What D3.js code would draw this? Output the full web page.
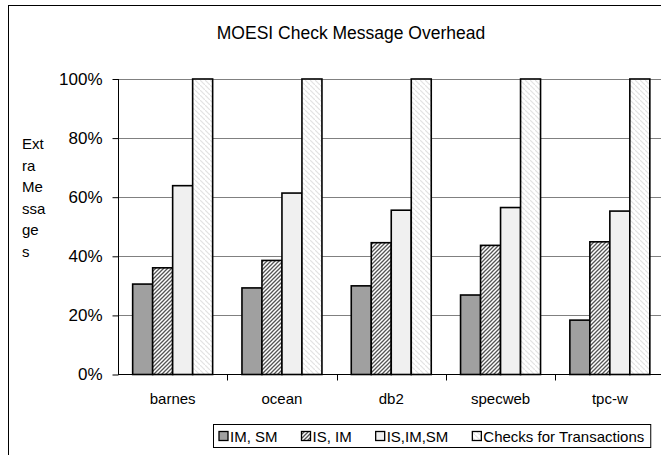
<!DOCTYPE html>
<html><head><meta charset="utf-8">
<script src="https://cdn.jsdelivr.net/npm/d3@7"></script>
<style>body{margin:0;background:#fff}svg{display:block}text{font-family:"Liberation Sans",Arial,sans-serif;fill:#000}</style>
</head><body><svg id="c" width="661" height="455"></svg>
<script>
const categories = ["barnes", "ocean", "db2", "specweb", "tpc-w"];
const seriesNames = ["IM, SM", "IS, IM", "IS,IM,SM", "Checks for Transactions"];
const imSm = [30.6, 29.3, 30.0, 26.9, 18.4];
const isIm = [36.1, 38.6, 44.6, 43.7, 44.9];
const isImSm = [63.9, 61.4, 55.6, 56.5, 55.3];
const checks = [100, 100, 100, 100, 100];
const yTicks = [0, 20, 40, 60, 80, 100];
const title = "MOESI Check Message Overhead";
const yLabelLines = ["Ext", "ra", "Me", "ssa", "ge", "s"];

const series = [imSm, isIm, isImSm, checks];
const fills = ["#a0a0a0", "url(#hatch)", "#f0f0f0", "url(#light)"];
const FS = 15;

const svg = d3.select("#c");
const defs = svg.append("defs");
const p1 = defs.append("pattern").attr("id","hatch").attr("patternUnits","userSpaceOnUse").attr("width",4).attr("height",4);
p1.append("rect").attr("width",4).attr("height",4).attr("fill","#fff");
p1.append("path").attr("d","M-1,1 l2,-2 M0,4 l4,-4 M3,5 l2,-2").attr("stroke","#555").attr("stroke-width",1.3);
const p2 = defs.append("pattern").attr("id","light").attr("patternUnits","userSpaceOnUse").attr("width",5).attr("height",5);
p2.append("rect").attr("width",5).attr("height",5).attr("fill","#fff");
p2.append("path").attr("d","M-1,-1 l2,2 M0,0 l5,5 M4,4 l2,2").attr("stroke","#e2e2e2").attr("stroke-width",1.2);

// outer chart border
svg.append("rect").attr("x",8.5).attr("y",5.5).attr("width",700).attr("height",470).attr("fill","none").attr("stroke","#000").attr("stroke-width",1);

svg.append("text").attr("x",351).attr("y",39).attr("text-anchor","middle").attr("font-size",17.5).text(title);

const x0 = d3.scaleBand().domain(categories).range([118, 664.5]).paddingInner(0).paddingOuter(0);
const x1 = d3.scaleBand().domain(d3.range(4)).range([0, x0.bandwidth()]).paddingOuter(0.733).paddingInner(0);
const y = d3.scaleLinear().domain([0,100]).range([374.5, 79]);

// gridlines
svg.append("g").selectAll("line").data(yTicks.filter(d=>d>0)).join("line")
  .attr("x1",118).attr("x2",661).attr("y1",d=>Math.round(y(d))+0.5).attr("y2",d=>Math.round(y(d))+0.5)
  .attr("stroke","#808080").attr("stroke-width",1);

// bars
const g = svg.append("g");
categories.forEach((c,i)=>{
  series.forEach((s,j)=>{
    g.append("rect")
      .attr("x", x0(c)+x1(j))
      .attr("y", y(s[i]))
      .attr("width", x1.bandwidth())
      .attr("height", y(0)-y(s[i]))
      .attr("fill", fills[j]).attr("stroke","#000").attr("stroke-width",1.6);
  });
});

// y axis
const yAxis = d3.axisLeft(y).tickValues(yTicks).tickFormat(d=>d+"%").tickSize(5).tickPadding(11);
const ya = svg.append("g").attr("transform","translate(118.5,0)").call(yAxis);
ya.select(".domain").attr("stroke","#000").attr("d","M0,79V375");
ya.selectAll(".tick line").attr("stroke","#000").attr("x2",-6);
ya.selectAll(".tick text").attr("font-size",17).attr("font-family","Liberation Sans, Arial, sans-serif").attr("fill","#000");

// x axis
const xAxis = d3.axisBottom(x0).tickSize(0).tickPadding(19);
const xa = svg.append("g").attr("transform","translate(0,374.5)").call(xAxis);
xa.select(".domain").attr("stroke","#000").attr("d","M118,0H661");
xa.selectAll(".tick text").attr("font-size",FS).attr("font-family","Liberation Sans, Arial, sans-serif").attr("fill","#000");
xa.append("g").selectAll("line").data(categories.slice(1)).join("line")
  .attr("x1",d=>Math.round(x0(d))+0.5).attr("x2",d=>Math.round(x0(d))+0.5).attr("y1",0).attr("y2",6).attr("stroke","#000");

// y label
svg.append("text").attr("x",22).attr("y",149).attr("font-size",FS)
  .selectAll("tspan").data(yLabelLines).join("tspan").attr("x",22).attr("dy",(d,i)=>i?21.5:0).text(d=>d);

// legend
const lg = svg.append("g");
const lx = 213, ly = 424;
const items = lg.append("g");
let cx = lx + 6;
seriesNames.forEach((n,j)=>{
  items.append("rect").attr("x",cx).attr("y",ly+7.5).attr("width",9).attr("height",9).attr("fill",fills[j]).attr("stroke","#000").attr("stroke-width",1.3);
  const t = items.append("text").attr("x",cx+11).attr("y",ly+17.5).attr("font-size",FS).text(n);
  cx += 11 + t.node().getComputedTextLength() + (j < 3 ? 24 : 6);
});
lg.insert("rect",":first-child").attr("x",lx+0.5).attr("y",ly+0.5).attr("width",cx-lx).attr("height",23).attr("fill","#fff").attr("stroke","#000");
</script></body></html>
